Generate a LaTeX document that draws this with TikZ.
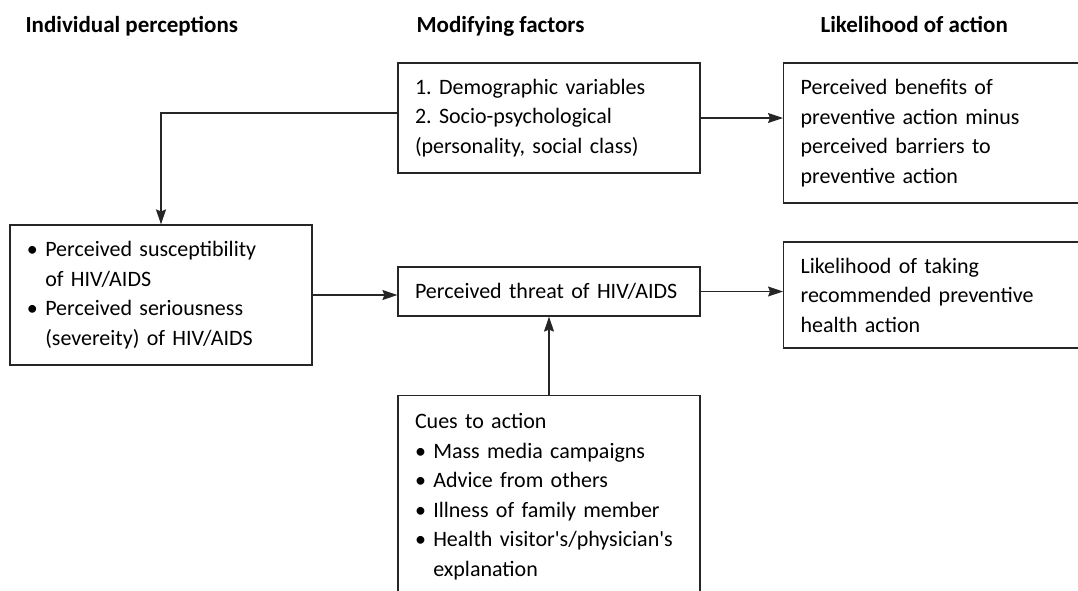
\documentclass[tikz,border=0pt]{standalone}
\usepackage{fontspec}
\setmainfont{Carlito}
\usetikzlibrary{arrows.meta}
\frenchspacing
\begin{document}
\begin{tikzpicture}[x=1pt,y=-1pt,
  box/.style={draw=black!85, line width=1.2pt, align=left, inner xsep=17pt, inner ysep=0pt,
    font=\fontsize{22}{29.5}\selectfont\frenchspacing},
  head/.style={anchor=base west, font=\fontsize{23}{27}\selectfont\bfseries},
  arr/.style={draw=black!85, line width=1.2pt, -{Stealth[length=15pt,width=10pt,inset=2pt]}}]
\useasboundingbox (0,0) rectangle (1078,590);
\clip (0,0) rectangle (1078,590);
% headers
\node[head] (h1) at (22,32) {Individual perceptions};
\node[head] (h2) at (413,32) {Modifying factors};
\node[head] (h3) at (817,32) {Likelihood of action};
% boxes
\node[box, minimum width=302pt, minimum height=110pt, text width=268pt] (tm) at (549,118)
  {1. Demographic variables\\2. Socio-psychological\\(personality, social class)};
\node[box, anchor=west, minimum width=330pt, minimum height=140pt, text width=296pt] (tr) at (783,133)
  {Perceived benefits of\\preventive action minus\\perceived barriers to\\preventive action};
\node[box, minimum width=302pt, minimum height=140pt, text width=268pt] (lb) at (161,295)
  {\textbullet\ Perceived susceptibility\\\phantom{\textbullet\ }of HIV/AIDS\\\textbullet\ Perceived seriousness\\\phantom{\textbullet\ }(severeity) of HIV/AIDS};
\node[box, minimum width=302pt, minimum height=49pt, text width=268pt] (mb) at (549,291.5)
  {Perceived threat of HIV/AIDS};
\node[box, anchor=west, minimum width=330pt, minimum height=106pt, text width=296pt] (br) at (783,295)
  {Likelihood of taking\\recommended preventive\\health action};
\node[box, anchor=north, minimum width=302pt, inner ysep=18pt, text width=268pt] (cu) at (549,395)
  {Cues to action\\\textbullet\ Mass media campaigns\\\textbullet\ Advice from others\\\textbullet\ Illness of family member\\\textbullet\ Health visitor\textquotesingle s/physician\textquotesingle s\\\phantom{\textbullet\ }explanation\\\mbox{}};
% connectors
\draw[arr] ([yshift=5pt]tm.west) -| (lb.north);
\draw[arr] (tm.east) -- (tm.east -| tr.west);
\draw[arr] (lb.east) -- (lb.east -| mb.west);
\draw[arr] (mb.east) -- (mb.east -| br.west);
\draw[arr] (cu.north) -- (cu.north |- mb.south);
\end{tikzpicture}
\end{document}
